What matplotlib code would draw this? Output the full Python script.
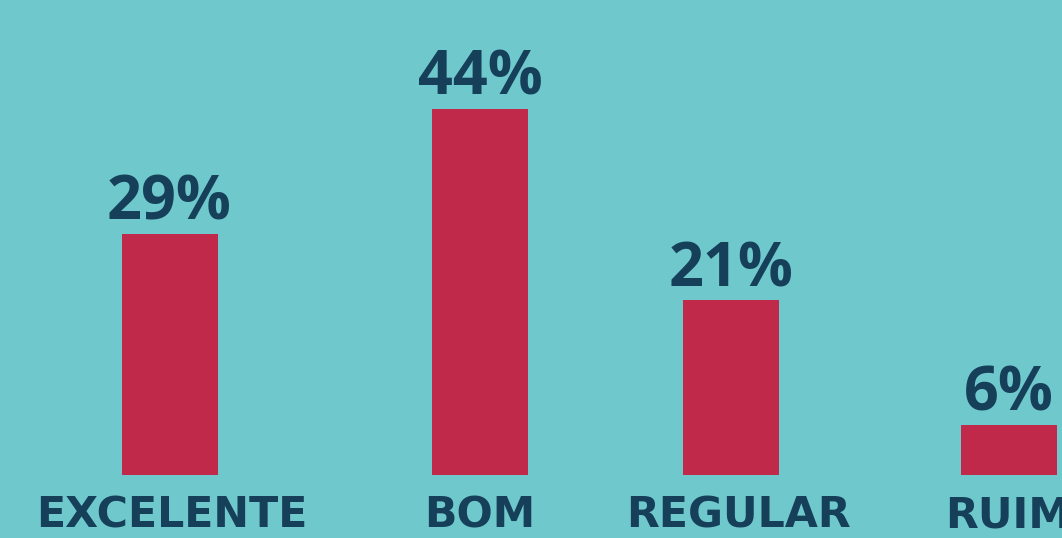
import matplotlib
matplotlib.use("Agg")
import matplotlib.pyplot as plt
from matplotlib import font_manager

categories = ["EXCELENTE", "BOM", "REGULAR", "RUIM"]
values = [29, 44, 21, 6]
value_labels = ["29%", "44%", "21%", "6%"]

# layout (pixel-like units on the x axis)
x_pos = [169.5, 480, 731, 1008.5]
label_x = [172, 480, 739, 1008]

bg = "#6fc8cc"
bar_color = "#c1294a"
text_color = "#163f5a"

# look for a narrow bold face, otherwise Open Sans
cond = None
for f in font_manager.fontManager.ttflist:
    if ("Narrow" in f.name or "Condensed" in f.name or f.stretch in ("condensed", "semi-condensed")) \
            and f.weight in ("bold", 700):
        cond = f.name
        break
cat_fam = [cond, "DejaVu Sans"] if cond else ["Open Sans", "DejaVu Sans"]
val_fam = ["Open Sans", "DejaVu Sans"]

fig = plt.figure(figsize=(10.62, 5.38), dpi=100)
fig.patch.set_facecolor(bg)
ax = fig.add_axes([0, 0, 1, 1])
ax.set_facecolor(bg)

ax.bar(x_pos, values, width=96, color=bar_color)

ax.set_xlim(0, 1062)
ax.set_ylim(-63 / 8.32, 475 / 8.32)
ax.axis("off")

renderer = fig.canvas.get_renderer()

def fit_size(text, fam, target_w, max_size):
    t = fig.text(0, 0, text, fontsize=max_size, fontweight="bold", family=fam)
    w = t.get_window_extent(renderer).width
    t.remove()
    return min(max_size, max_size * target_w / w)

cat_size = fit_size("EXCELENTE", cat_fam, 272, 44)
val_size = fit_size("44%", val_fam, 128, 44)

for x, v, lab in zip(x_pos, values, value_labels):
    ax.text(x, v + 1.7, lab, ha="center", va="baseline", fontsize=val_size,
            fontweight="bold", color=text_color, family=val_fam)

for x, cat in zip(label_x, categories):
    ax.text(x, -7.4, cat, ha="center", va="bottom", fontsize=cat_size,
            fontweight="bold", color=text_color, family=cat_fam)

fig.savefig("out.png", dpi=100, facecolor=bg)
